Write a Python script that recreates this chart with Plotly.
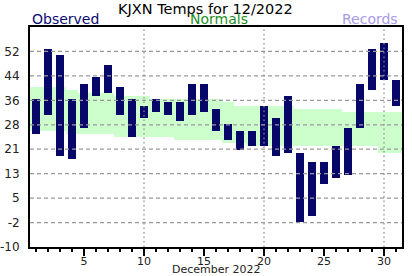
import plotly.graph_objects as go

days = list(range(1, 32))
obs_high = [37, 53, 51, 37, 42, 44, 48, 41, 37, 35, 37, 36, 36, 42, 42, 34,
            29, 27, 27, 35, 31, 38, 20, 17, 17, 22, 28, 42, 53, 55, 43]
obs_low = [26, 32, 19, 18, 28, 38, 39, 32, 25, 31, 33, 32, 30, 32, 33, 27,
           24, 21, 22, 22, 19, 20, -2, 0, 10, 12, 13, 28, 40, 43, 35]
norm_high = [41, 41, 41, 40, 39, 39, 39, 38, 38, 38, 37, 37, 37, 37, 37, 37,
             36, 35, 35, 35, 35, 35, 34, 34, 34, 34, 33, 33, 33, 33, 33]
norm_low = [27, 27, 27, 26, 26, 26, 26, 25, 25, 25, 25, 25, 24, 24, 24, 24,
            23, 23, 22, 22, 22, 22, 22, 22, 22, 22, 22, 22, 22, 20, 20]

y_tickvals = [-10, -2.222, 5.556, 13.333, 21.111, 28.889, 36.667, 44.444, 52.222]
y_ticktext = ["-10", "-2", "5", "13", "21", "28", "36", "44", "52"]
x_tickvals = [5, 10, 15, 20, 25, 30]
x_gridvals = [10, 20, 30]

FONT = "DejaVu Sans"

fig = go.Figure()
# normals band (one full-width step per day)
fig.add_trace(go.Bar(x=days, base=norm_low,
                     y=[h - l for h, l in zip(norm_high, norm_low)],
                     width=1.0, marker=dict(color="#ccffcc", line=dict(width=0)),
                     hoverinfo="skip", showlegend=False))
# observed high/low bars
fig.add_trace(go.Bar(x=days, base=obs_low,
                     y=[h - l for h, l in zip(obs_high, obs_low)],
                     width=0.667, marker=dict(color="#07076a", line=dict(width=0)),
                     showlegend=False))

shapes = []
for v in y_tickvals[1:]:
    shapes.append(dict(type="line", xref="paper", x0=0, x1=1, yref="y", y0=v, y1=v,
                       line=dict(color="#999999", width=1.2, dash="4px,3px"), layer="above"))
for v in x_gridvals:
    shapes.append(dict(type="line", yref="paper", y0=0, y1=1, xref="x", x0=v, x1=v,
                       line=dict(color="#888888", width=1.2, dash="1.5px,3px"), layer="above"))

annotations = [
    dict(text="KJXN Temps for 12/2022", xref="paper", yref="paper", x=0.473, y=1.082,
         xanchor="center", yanchor="middle", showarrow=False,
         font=dict(family=FONT, size=14.5, color="#000000")),
    dict(text="Observed", xref="paper", yref="paper", x=0.0, y=1.036,
         xanchor="left", yanchor="middle", showarrow=False,
         font=dict(family=FONT, size=14, color="#0b0b75")),
    dict(text="Normals", xref="paper", yref="paper", x=0.508, y=1.036,
         xanchor="center", yanchor="middle", showarrow=False,
         font=dict(family=FONT, size=14, color="#1f8f1f")),
    dict(text="Records", xref="paper", yref="paper", x=0.995, y=1.036,
         xanchor="right", yanchor="middle", showarrow=False,
         font=dict(family=FONT, size=14, color="#a89ae8")),
    dict(text="December 2022", xref="paper", yref="paper", x=0.5, y=-0.1,
         xanchor="center", yanchor="middle", showarrow=False,
         font=dict(family=FONT, size=11, color="#222222")),
]

fig.update_layout(
    width=412, height=276,
    margin=dict(l=30, r=10, t=27, b=29, autoexpand=False),
    paper_bgcolor="white", plot_bgcolor="white",
    barmode="overlay", bargap=0,
    shapes=shapes, annotations=annotations,
    font=dict(family=FONT, size=12, color="#222222"),
    xaxis=dict(range=[0.5, 31.5], tickvals=x_tickvals, ticks="outside", ticklen=7,
               tickcolor="black", tickwidth=1.5, automargin=False,
               ticklabelstandoff=-4,
               minor=dict(dtick=1, tick0=0, ticks="outside", ticklen=3, tickcolor="black",
                          tickwidth=1.5, showgrid=False),
               showgrid=False, zeroline=False, showline=True, linecolor="black",
               linewidth=2, mirror=True, layer="above traces",
               tickfont=dict(family=FONT, size=11, color="#222222")),
    yaxis=dict(range=[-10, 60], tickvals=y_tickvals, ticktext=y_ticktext, ticks="",
               ticklabelstandoff=6, automargin=False,
               showgrid=False, zeroline=False, showline=True, linecolor="black",
               linewidth=2, mirror=True, layer="above traces",
               tickfont=dict(family=FONT, size=12, color="#222222")),
)

fig.write_html("out.html")
